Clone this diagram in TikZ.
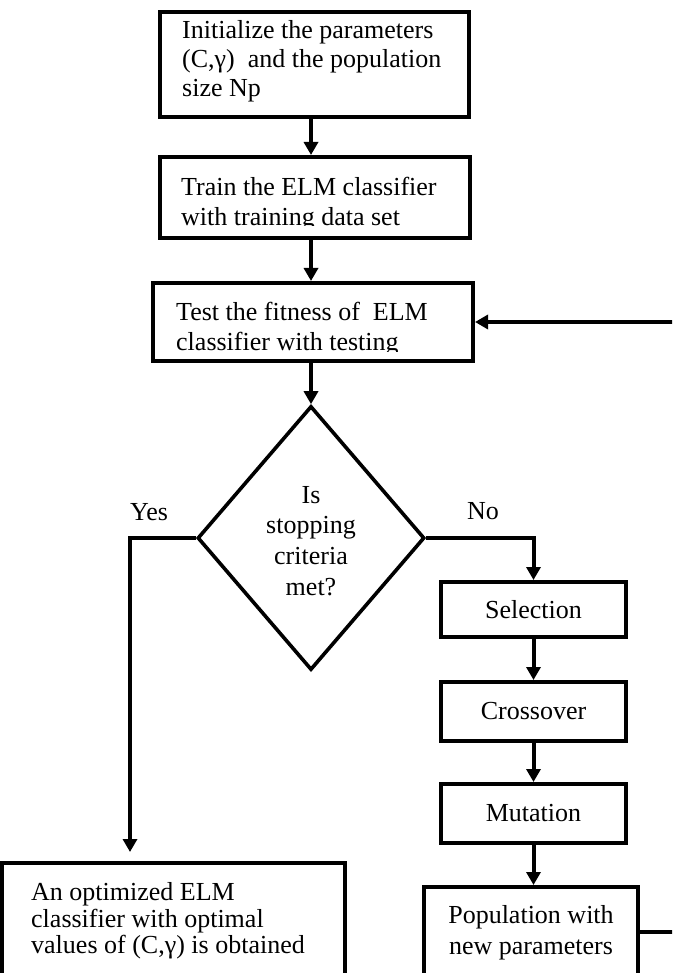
\documentclass[tikz,border=0pt]{standalone}
\usepackage{fontspec}
\setmainfont{Liberation Serif}
\usetikzlibrary{shapes.geometric,arrows.meta,calc}
\newcommand\ff[1]{\fontsize{26}{#1}\selectfont}
\begin{document}
\begin{tikzpicture}[x=1pt,y=-1pt,
  every node/.style={font=\ff{29.5}},
  box/.style={draw,line width=4pt,inner sep=0pt},
  txt/.style={inner sep=0pt,align=left,anchor=north west},
  txtc/.style={inner sep=0pt,align=center,anchor=north},
  lbl/.style={inner sep=0pt,anchor=base west},
  arr/.style={line width=4pt,-{Triangle[length=13pt,width=14pt]}}]
\useasboundingbox[fill=white] (0,0) rectangle (672,973);
\clip (0,0) rectangle (672,973);

% boxes
\node[box, minimum width=309, minimum height=105] (b1) at (314.5,64.5) {};
\node[box, minimum width=310, minimum height=81] (b2) at (315,197.5) {};
\node[box, minimum width=320, minimum height=78] (b3) at (313,322) {};
\node[draw, diamond, line width=3.6pt, minimum width=227, minimum height=264, inner sep=0pt] (dia) at (311,538) {};
\node[box, minimum width=185, minimum height=55] (sel) at (533.5,609.5) {Selection};
\node[box, minimum width=185, minimum height=59] (cro) at (533.5,711.5) {Crossover};
\node[box, minimum width=185, minimum height=59] (mut) at (533.5,813.5) {Mutation};
\node[box, minimum width=214, minimum height=90] (pop) at (531,932) {};
\node[box, minimum width=343, minimum height=137] (res) at (173.5,931.5) {};

% texts
\node[txt, font=\ff{29}] (t1) at (182,17.7) {\strut Initialize the parameters\\(C,γ)~~and the population\\size Np};
\begin{scope}
  \clip (160,157) rectangle (470,226);
  \node[txt, font=\ff{30}] (t2) at (181,174) {\strut Train the ELM classifier\\with training data set};
\end{scope}
\begin{scope}
  \clip (153,283) rectangle (473,351);
  \node[txt, font=\ff{30}] (t3) at (176,299) {\strut Test the fitness of~~ELM\\classifier with testing};
\end{scope}
\node[txtc, font=\ff{30.7}] (td) at (311,481.5) {\strut Is\\stopping\\criteria\\met?};
\node[txtc, font=\ff{31}] (tp) at (531,901.3) {\strut Population with\\new parameters};
\node[txt, font=\ff{26}] (tr) at (31,881.8) {\strut An optimized ELM\\classifier with optimal\\values of (C,γ) is obtained};
\node[lbl] (yes) at (130,520) {Yes};
\node[lbl] (no) at (467,519) {No};

% connectors
\draw[arr] (b1.south -| dia.north) -- (b2.north -| dia.north);
\draw[arr] (b2.south -| dia.north) -- (b3.north -| dia.north);
\draw[arr] (b3.south -| dia.north) -- (dia.north);
\draw[arr, shorten >=9pt] (dia.west) -| ([xshift=130pt]res.north west);
\draw[arr] (dia.east) -| (sel.north);
\draw[arr] (sel) -- (cro);
\draw[arr] (cro) -- (mut);
\draw[arr] (mut.south) -- (mut.south |- pop.north);
\draw[arr] (pop.east) -- ++(60,0) |- (b3.east);
\end{tikzpicture}
\end{document}
